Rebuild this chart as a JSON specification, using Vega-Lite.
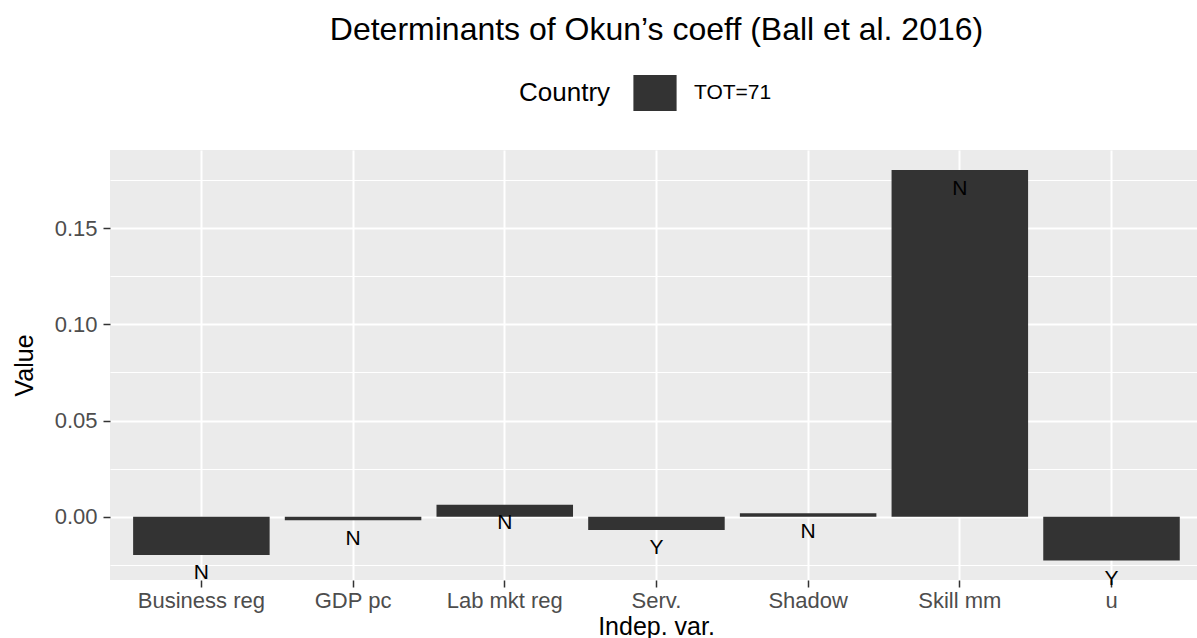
{
  "$schema": "https://vega.github.io/schema/vega-lite/v6.json",
  "width": 1087,
  "height": 430,
  "autosize": {"type": "none"},
  "padding": {"left": 110, "top": 150, "right": 0, "bottom": 58},
  "background": "white",
  "config": {
    "font": "Liberation Sans",
    "view": {"fill": "#EBEBEB", "stroke": null},
    "axis": {
      "domain": false,
      "gridColor": "#FFFFFF",
      "gridWidth": 2,
      "gridOpacity": 1,
      "tickColor": "#333333",
      "tickWidth": 1.5,
      "tickSize": 7,
      "labelColor": "#4D4D4D",
      "labelFontSize": 22,
      "titleFontSize": 25,
      "titleFontWeight": "normal",
      "titleColor": "#000000"
    }
  },
  "title": {
    "text": "Determinants of Okun’s coeff (Ball et al. 2016)",
    "fontSize": 32,
    "fontWeight": "normal",
    "color": "#000000",
    "anchor": "middle",
    "frame": "group",
    "offset": 28,
    "dx": 3
  },
  "data": {
    "values": [
      {"var": "Business reg", "value": -0.0199, "sig": "N", "Country": "TOT=71"},
      {"var": "GDP pc", "value": -0.0019, "sig": "N", "Country": "TOT=71"},
      {"var": "Lab mkt reg", "value": 0.0062, "sig": "N", "Country": "TOT=71"},
      {"var": "Serv.", "value": -0.0069, "sig": "Y", "Country": "TOT=71"},
      {"var": "Shadow", "value": 0.0018, "sig": "N", "Country": "TOT=71"},
      {"var": "Skill mm", "value": 0.1803, "sig": "N", "Country": "TOT=71"},
      {"var": "u", "value": -0.0228, "sig": "Y", "Country": "TOT=71"}
    ]
  },
  "encoding": {
    "x": {
      "field": "var",
      "type": "nominal",
      "sort": null,
      "scale": {"paddingInner": 0.1, "paddingOuter": 0.133, "align": 0.573},
      "axis": {
        "title": "Indep. var.",
        "grid": true,
        "labelAngle": 0,
        "bandPosition": 0.5,
        "labelBaseline": "alphabetic",
        "labelPadding": 20,
        "titleX": 546,
        "titleY": 54,
        "titleBaseline": "alphabetic",
        "titleAlign": "center"
      }
    }
  },
  "layer": [
    {
      "mark": {"type": "bar", "opacity": 1},
      "encoding": {
        "y": {
          "field": "value",
          "type": "quantitative",
          "scale": {"domain": [-0.03292, 0.19072], "nice": false, "zero": false},
          "axis": {
            "title": "Value",
            "grid": true,
            "values": [0, 0.05, 0.1, 0.15],
            "format": ".2f",
            "labelPadding": 6,
            "titleX": -86,
            "titleY": 215,
            "titleAngle": -90,
            "titleBaseline": "middle",
            "titleAlign": "center"
          }
        },
        "color": {
          "field": "Country",
          "type": "nominal",
          "scale": {"range": ["#333333"]},
          "legend": {
            "orient": "none",
            "legendX": 409,
            "legendY": -75,
            "direction": "horizontal",
            "titleOrient": "left",
            "titleFontSize": 26,
            "titleFontWeight": "normal",
            "titleColor": "#000000",
            "titleBaseline": "middle",
            "titlePadding": 26,
            "symbolType": "M-1.2,-1H1.2V1H-1.2Z",
            "symbolSize": 1296,
            "symbolStrokeWidth": 0,
            "symbolOpacity": 1,
            "labelFontSize": 21,
            "labelColor": "#000000",
            "labelOffset": 21
          }
        }
      }
    },
    {
      "mark": {"type": "text", "baseline": "middle", "dy": 18.5, "fontSize": 21, "color": "#000000"},
      "encoding": {
        "y": {
          "field": "value",
          "type": "quantitative",
          "axis": {
            "orient": "right",
            "grid": true,
            "values": [-0.025, 0.025, 0.075, 0.125, 0.175],
            "labels": false,
            "ticks": false,
            "domain": false,
            "title": null,
            "gridWidth": 1
          }
        },
        "text": {"field": "sig"}
      }
    }
  ],
  "resolve": {"axis": {"y": "independent"}}
}
